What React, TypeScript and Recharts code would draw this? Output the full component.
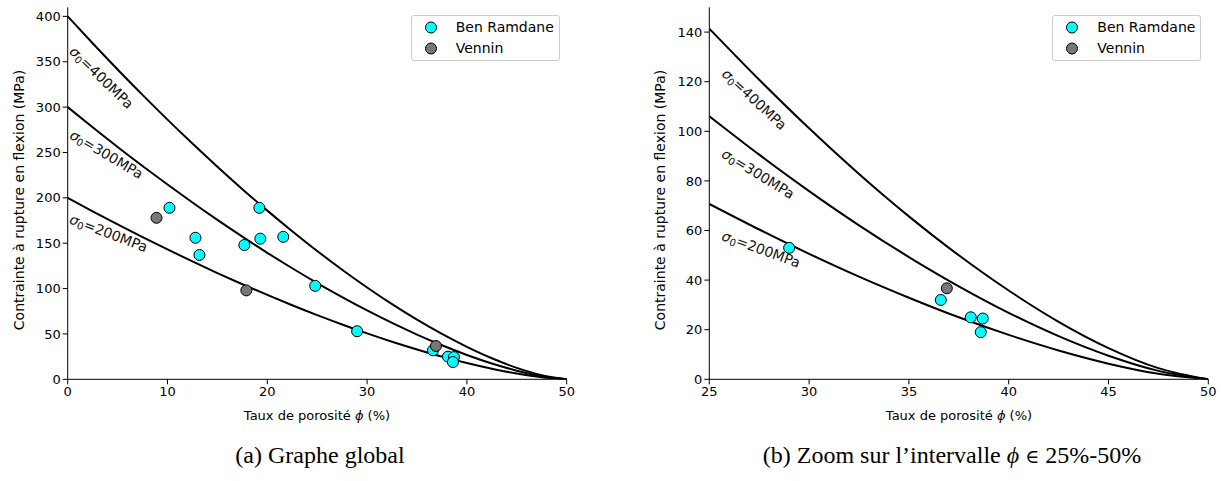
import React from 'react';
import {
  ComposedChart,
  Line,
  Scatter,
  XAxis,
  YAxis,
  ReferenceDot,
  Label,
} from 'recharts';

// porosité (%) sur laquelle les courbes du modèle sont lues
const porosityGrid = [0, 2.5, 5, 7.5, 10, 12.5, 15, 17.5, 20, 22.5, 25, 27.5, 30, 32.5, 35, 37.5, 40, 42.5, 45, 47.5, 50];
const sigma400 = [400, 370.4, 341.5, 313.5, 286.2, 259.8, 234.3, 209.6, 185.9, 163.2, 141.4, 120.8, 101.2, 82.8, 65.7, 50, 35.8, 23.2, 12.6, 4.5, 0];
const sigma300 = [300, 277.8, 256.1, 235.1, 214.7, 194.9, 175.7, 157.2, 139.4, 122.4, 106.1, 90.6, 75.9, 62.1, 49.3, 37.5, 26.8, 17.4, 9.5, 3.4, 0];
const sigma200 = [200, 185.2, 170.8, 156.7, 143.1, 129.9, 117.1, 104.8, 93.0, 81.6, 70.7, 60.4, 50.6, 41.4, 32.9, 25.0, 17.9, 11.6, 6.3, 2.2, 0];

// mesures
const benRamdanePhi = [10.2, 12.8, 13.2, 17.7, 19.2, 19.3, 21.6, 24.8, 29.0, 36.6, 38.1, 38.7, 38.6];
const benRamdaneSigma = [189, 156, 137, 148, 189, 155, 157, 103, 53, 32, 25, 24.5, 19];
const venninPhi = [8.9, 17.9, 36.9];
const venninSigma = [178, 98, 36.7];

const seriesNames = ['Ben Ramdane', 'Vennin'];
const seriesColors = ['#00FFFF', '#777777'];

const globalXTicks = [0, 10, 20, 30, 40, 50];
const globalYTicks = [0, 50, 100, 150, 200, 250, 300, 350, 400];
const zoomXTicks = [25, 30, 35, 40, 45, 50];
const zoomYTicks = [0, 20, 40, 60, 80, 100, 120, 140];

const curveSigma0 = [400, 300, 200];
// positions des étiquettes (phi, sigma) et angle
const globalLabelPos = [[3.4, 332.6, 44], [3.9, 248.1, 30.5], [4.1, 161.2, 21]];
const zoomLabelPos = [[27.26, 112.9, 43], [27.45, 82.9, 31.5], [27.6, 52.5, 20]];

const curveRows = porosityGrid.map((phi, i) => ({
  phi,
  s400: sigma400[i],
  s300: sigma300[i],
  s200: sigma200[i],
}));
const benRamdaneRows = benRamdanePhi.map((phi, i) => ({ phi, sigma: benRamdaneSigma[i] }));
const venninRows = venninPhi.map((phi, i) => ({ phi, sigma: venninSigma[i] }));

const FONT = '"DejaVu Sans", sans-serif';
const tickStyle = { fontSize: 13, fill: '#000', fontFamily: FONT };

const Dot = (props: any) => {
  const { cx, cy, fill } = props;
  if (cx == null || cy == null) return null;
  return <circle cx={cx} cy={cy} r={5.5} fill={fill} stroke="#000" strokeWidth={1} />;
};

const CurveText = ({ viewBox, sigma0, angle }: any) => {
  if (!viewBox) return null;
  const { x, y } = viewBox;
  return (
    <text
      x={x}
      y={y}
      textAnchor="middle"
      dominantBaseline="central"
      transform={`rotate(${angle} ${x} ${y})`}
      fontFamily={FONT}
      fontSize={14}
      fill="#111"
    >
      <tspan fontStyle="italic">σ</tspan>
      <tspan fontSize={10} dy={3}>0</tspan>
      <tspan dy={-3}>={sigma0}MPa</tspan>
    </text>
  );
};

const LegendBox = ({ left }: { left: number }) => (
  <div
    style={{
      position: 'absolute',
      left,
      top: 15,
      width: 147,
      height: 44,
      border: '1px solid #cccccc',
      borderRadius: 3,
      background: 'rgba(255,255,255,0.8)',
      fontFamily: FONT,
      fontSize: 14,
    }}
  >
    {seriesNames.map((name, i) => (
      <div key={name} style={{ position: 'absolute', left: 0, top: 2 + i * 21.3, height: 20, width: 147 }}>
        <svg width={30} height={20} style={{ position: 'absolute', left: 4, top: 0 }}>
          <circle cx={15} cy={9.5} r={5.5} fill={seriesColors[i]} stroke="#000" strokeWidth={1} />
        </svg>
        <span style={{ position: 'absolute', left: 44, top: 0, lineHeight: '19px', color: '#000' }}>{name}</span>
      </div>
    ))}
  </div>
);

const AxisTitleY = ({ cx, cy }: { cx: number; cy: number }) => (
  <text
    x={cx}
    y={cy}
    textAnchor="middle"
    dominantBaseline="central"
    transform={`rotate(-90 ${cx} ${cy})`}
    fontFamily={FONT}
    fontSize={14}
    fill="#000"
  >
    Contrainte à rupture en flexion (MPa)
  </text>
);

const AxisTitleX = ({ cx, cy }: { cx: number; cy: number }) => (
  <text x={cx} y={cy} textAnchor="middle" dominantBaseline="central" fontFamily={FONT} fontSize={13} fill="#000">
    Taux de porosité <tspan fontStyle="italic">ϕ</tspan> (%)
  </text>
);

type PanelProps = {
  xDomain: [number, number];
  yDomain: [number, number];
  xTicks: number[];
  yTicks: number[];
  margin: { top: number; right: number; bottom: number; left: number };
  labelPos: number[][];
  xTitle: [number, number];
  yTitle: [number, number];
};

const Panel = ({ xDomain, yDomain, xTicks, yTicks, margin, labelPos, xTitle, yTitle }: PanelProps) => {
  const rows = curveRows.filter((r) => r.phi >= xDomain[0]);
  const br = benRamdaneRows.filter((r) => r.phi >= xDomain[0]);
  const vn = venninRows.filter((r) => r.phi >= xDomain[0]);
  return (
    <div style={{ position: 'relative', width: 580, height: 440 }}>
      <ComposedChart width={580} height={440} data={rows} margin={margin}>
        <XAxis
          xAxisId="b"
          dataKey="phi"
          type="number"
          domain={xDomain}
          ticks={xTicks}
          allowDataOverflow
          tick={tickStyle}
          tickSize={5}
          tickLine={{ stroke: '#000' }}
          axisLine={{ stroke: '#000' }}
          height={30}
        >
          <Label content={() => <AxisTitleX cx={xTitle[0]} cy={xTitle[1]} />} />
        </XAxis>
        <XAxis xAxisId="t" orientation="top" dataKey="phi" type="number" domain={xDomain} allowDataOverflow tick={false} tickLine={false} axisLine={{ stroke: '#000' }} height={0} />
        <YAxis
          yAxisId="l"
          type="number"
          domain={yDomain}
          ticks={yTicks}
          allowDataOverflow
          tick={tickStyle}
          tickSize={5}
          tickLine={{ stroke: '#000' }}
          axisLine={{ stroke: '#000' }}
          width={40}
        >
          <Label content={() => <AxisTitleY cx={yTitle[0]} cy={yTitle[1]} />} />
        </YAxis>
        <YAxis yAxisId="r" orientation="right" type="number" domain={yDomain} allowDataOverflow tick={false} tickLine={false} axisLine={{ stroke: '#000' }} width={0} />
        {['s400', 's300', 's200'].map((k) => (
          <Line
            key={k}
            xAxisId="b"
            yAxisId="l"
            dataKey={k}
            type="monotone"
            stroke="#000"
            strokeWidth={2}
            dot={false}
            activeDot={false}
            isAnimationActive={false}
            legendType="none"
          />
        ))}
        <Scatter xAxisId="b" yAxisId="l" name={seriesNames[0]} data={br} dataKey="sigma" fill={seriesColors[0]} shape={<Dot />} isAnimationActive={false} />
        <Scatter xAxisId="b" yAxisId="l" name={seriesNames[1]} data={vn} dataKey="sigma" fill={seriesColors[1]} shape={<Dot />} isAnimationActive={false} />
        {labelPos.map(([x, y, angle], i) => (
          <ReferenceDot
            key={i}
            xAxisId="b"
            yAxisId="l"
            x={x}
            y={y}
            r={0}
            fill="none"
            stroke="none"
            ifOverflow="visible"
          >
            <Label content={(p: any) => <CurveText viewBox={p.viewBox} sigma0={curveSigma0[i]} angle={angle} />} />
          </ReferenceDot>
        ))}
      </ComposedChart>
      <LegendBox left={580 - margin.right - 156} />
    </div>
  );
};

export default function App() {
  return (
    <div style={{ position: 'absolute', left: 0, top: 0, width: 1221, height: 481, background: '#fff' }}>
      <div style={{ position: 'absolute', left: 0, top: 0 }}>
        <Panel
          xDomain={[0, 50]}
          yDomain={[0, 410]}
          xTicks={globalXTicks}
          yTicks={globalYTicks}
          margin={{ top: 7.3, right: 13.3, bottom: 30.7, left: 27.7 }}
          labelPos={globalLabelPos}
          xTitle={[317, 415]}
          yTitle={[19, 200]}
        />
      </div>
      <div style={{ position: 'absolute', left: 640, top: 0 }}>
        <Panel
          xDomain={[25, 50]}
          yDomain={[0, 150]}
          xTicks={zoomXTicks}
          yTicks={zoomYTicks}
          margin={{ top: 7.3, right: 11.7, bottom: 30.7, left: 29.3 }}
          labelPos={zoomLabelPos}
          xTitle={[319, 415]}
          yTitle={[20, 200]}
        />
      </div>
      <div style={{ position: 'absolute', left: 120, top: 442, width: 400, textAlign: 'center', fontFamily: '"Liberation Serif", serif', fontSize: 24 }}>
        (a) Graphe global
      </div>
      <div style={{ position: 'absolute', left: 752, top: 442, width: 400, textAlign: 'center', fontFamily: '"Liberation Serif", serif', fontSize: 24 }}>
        (b) Zoom sur l’intervalle <i>ϕ</i> <span style={{ fontFamily: '"DejaVu Serif", serif', fontSize: 19 }}>∈</span> 25%-50%
      </div>
    </div>
  );
}
